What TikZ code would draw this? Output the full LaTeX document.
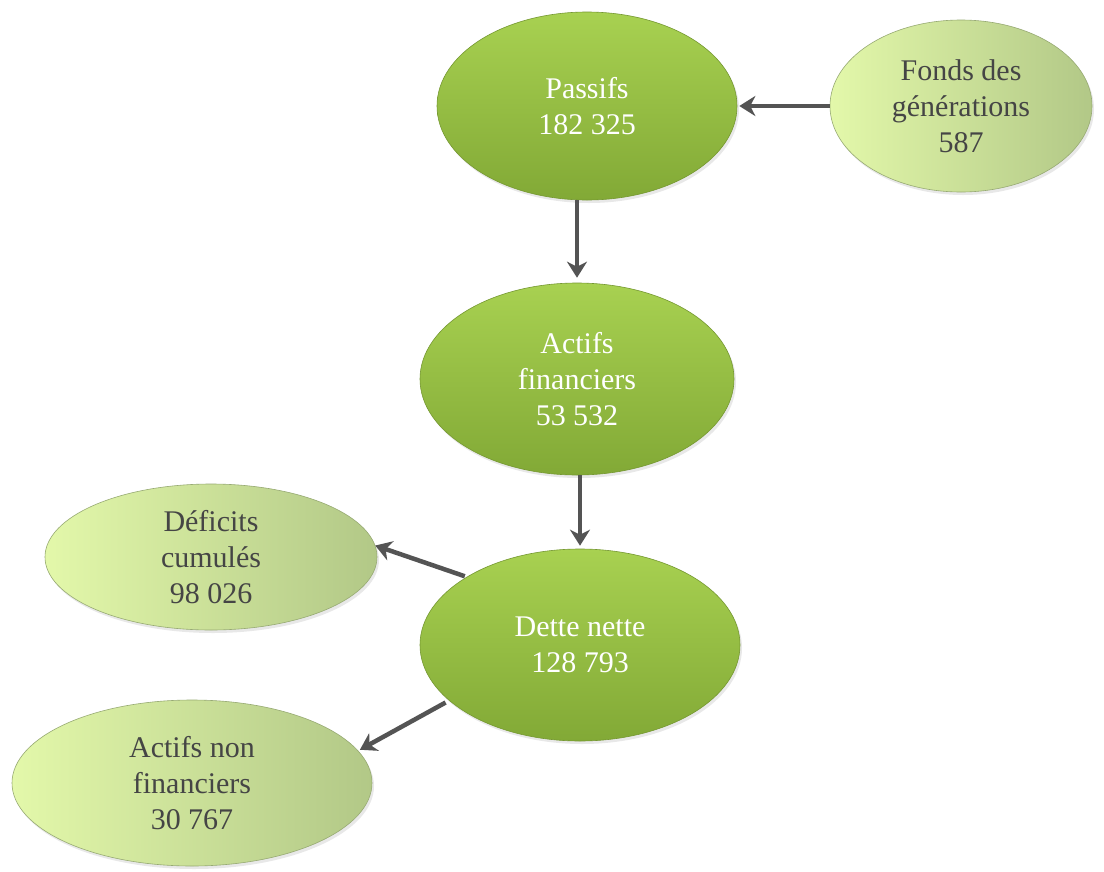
\documentclass[tikz,border=0pt]{standalone}
\usepackage{fontspec}
\setmainfont{Liberation Serif}
\usetikzlibrary{shapes.geometric,shadows,arrows.meta}
\definecolor{darktop}{HTML}{A8D151}
\definecolor{darkbot}{HTML}{82A936}
\definecolor{lightleft}{HTML}{E3F8AA}
\definecolor{lightright}{HTML}{B2C887}
\definecolor{arrowgray}{HTML}{545454}
\definecolor{txtgray}{HTML}{454545}
\tikzset{
  mainell/.style={ellipse, inner sep=0pt, align=center, text=white,
    top color=darktop, bottom color=darkbot, draw=darkbot!90!black, line width=0.6pt,
    drop shadow={opacity=0.18, shadow xshift=2pt, shadow yshift=-3pt},
    font=\fontsize{30}{36}\selectfont},
  sideell/.style={ellipse, inner sep=0pt, align=center, text=txtgray,
    left color=lightleft, right color=lightright, draw=lightright!85!black, line width=0.6pt,
    drop shadow={opacity=0.18, shadow xshift=2pt, shadow yshift=-3pt},
    font=\fontsize{30}{36}\selectfont},
  conn/.style={draw=arrowgray, line width=4.5pt, -{Stealth[length=16pt, width=20pt, inset=5pt]}}
}
\begin{document}
\begin{tikzpicture}[x=1pt,y=-1pt]
\useasboundingbox[fill=white] (0,0) rectangle (1104,871);
\node[mainell, minimum width=300pt, minimum height=188pt] (passifs) at (587,106) {Passifs\\182 325};
\node[sideell, minimum width=262pt, minimum height=172pt] (fonds) at (961,106) {Fonds des\\générations\\587};
\node[mainell, minimum width=314pt, minimum height=192pt] (actifs) at (577,379) {Actifs\\financiers\\53 532};
\node[sideell, minimum width=332pt, minimum height=146pt] (deficits) at (211,557) {Déficits\\cumulés\\98 026};
\node[mainell, minimum width=320pt, minimum height=192pt] (dette) at (580,645) {Dette nette\\128 793};
\node[sideell, minimum width=360pt, minimum height=166pt] (anf) at (192,783) {Actifs non\\financiers\\30 767};
\draw[conn, shorten >=2pt] (fonds) -- (passifs);
\draw[conn, shorten >=5pt] (actifs.north |- passifs.south) -- (actifs.north);
\draw[conn, shorten >=3pt] (dette.north |- actifs.south) -- (dette.north);
\draw[conn, shorten <=2pt] (dette.149) -- (deficits.4);
\draw[conn, shorten <=4pt, shorten >=2pt] (dette.203) -- (anf.11);
\end{tikzpicture}
\end{document}
